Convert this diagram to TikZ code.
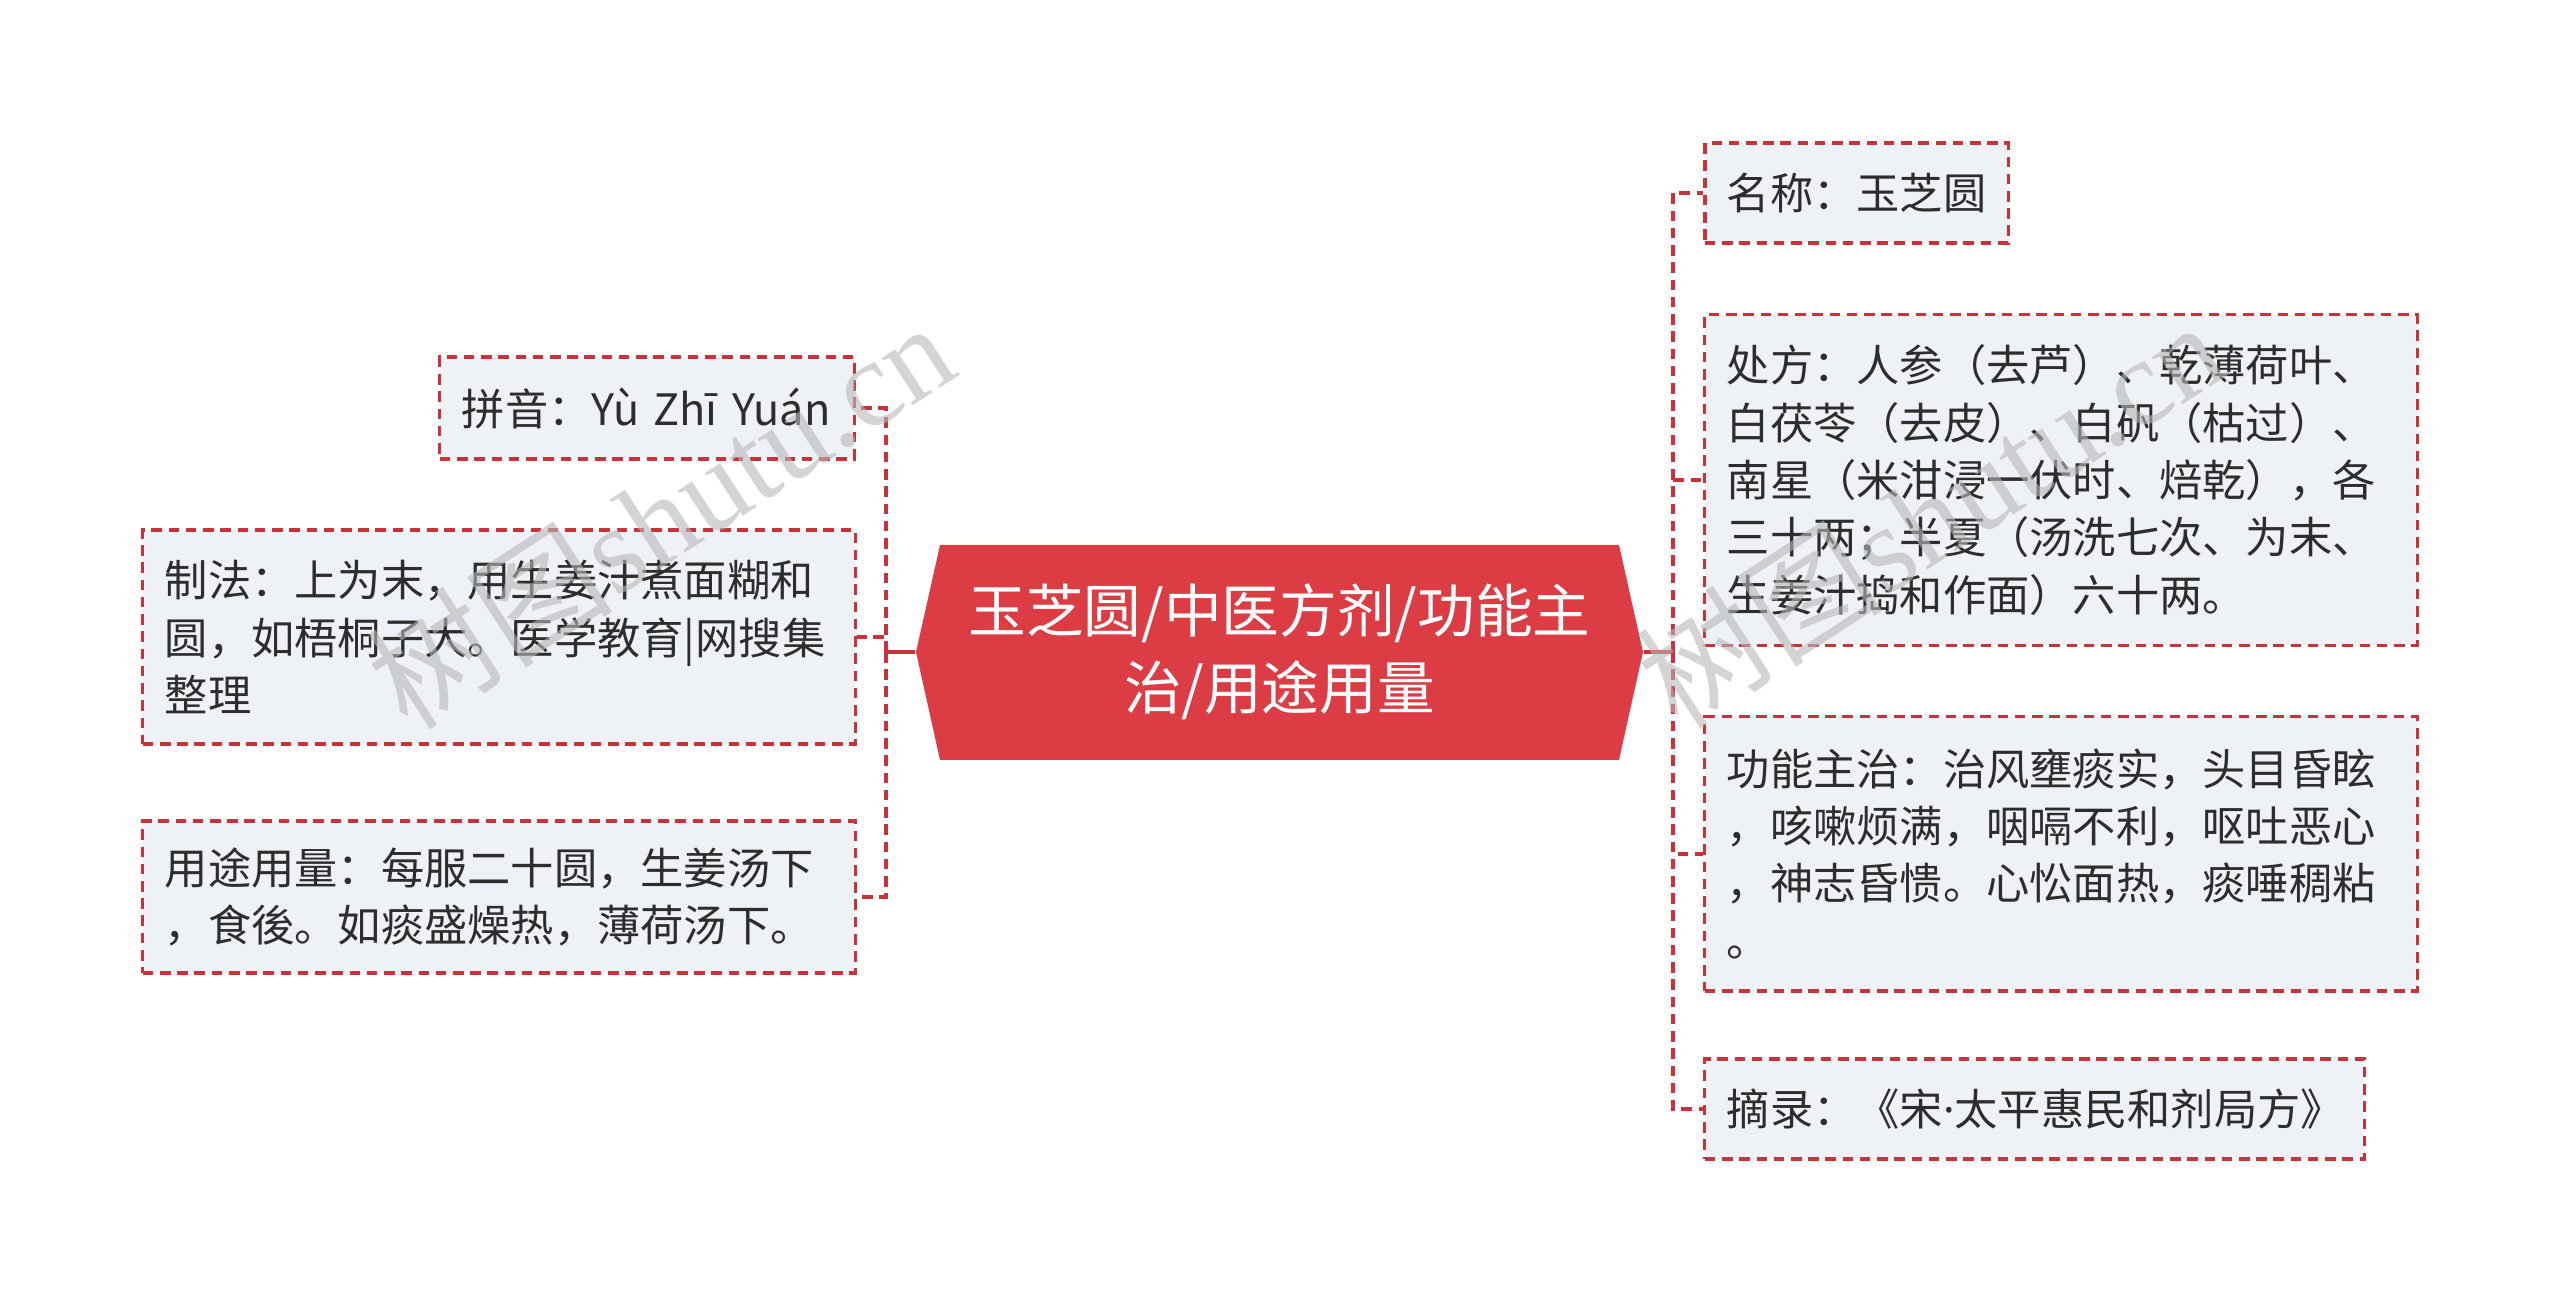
\documentclass[tikz,border=0pt]{standalone}
\usepackage{fontspec}
\setmainfont{Noto Sans CJK SC}
\newfontfamily\wmlatin{Liberation Serif}
\newfontfamily\latinsans{Noto Sans}
\definecolor{linered}{RGB}{202,50,58}
\definecolor{boxfill}{RGB}{238,241,245}
\definecolor{centerred}{RGB}{220,60,68}
\definecolor{txt}{RGB}{45,45,45}
\begin{document}
\begin{tikzpicture}[x=0.01cm,y=-0.01cm,
 leaf/.style={draw=linered, fill=boxfill, line width=0.9pt, dash pattern=on 3pt off 1.9pt, text=txt, align=left, inner xsep=0.22cm, inner ysep=0pt, font=\fontsize{12.3pt}{16.3pt}\selectfont},
 solidconn/.style={draw=linered, line width=1.1pt},
 dashconn/.style={draw=linered, line width=1.1pt, dash pattern=on 3pt off 1.9pt},
 wm/.style={text=black!28, opacity=0.6, rotate=33, font=\fontsize{35pt}{35pt}\selectfont}]
\useasboundingbox (0,0) rectangle (2560,1304);
\fill[white] (0,0) rectangle (2560,1304);

% central topic
\fill[centerred] (916,652) -- (940,545) -- (1619,545) -- (1643,652) -- (1619,760) -- (940,760) -- cycle;
\node[text=white, align=center, minimum width=7.27cm, minimum height=2.15cm, inner sep=0pt,
  font=\fontsize{16.4pt}{21.9pt}\selectfont] (c) at (1279.5,652) {玉芝圆/中医方剂/功能主\\治/用途用量};

% left leaves
\node[leaf, text width=3.70cm, minimum height=1.02cm] (l1) at (647,408) {\mbox{拼音：Yù Zhī Yuán}};
\node[leaf, text width=6.68cm, minimum height=2.14cm] (l2) at (499,637) {制法：上为末，用生姜汁煮面糊和\\圆，如梧桐子大。医学教育|网搜集\\整理};
\node[leaf, text width=6.68cm, minimum height=1.52cm] (l3) at (499,897) {用途用量：每服二十圆，生姜汤下\\，食後。如痰盛燥热，薄荷汤下。};

% right leaves
\node[leaf, text width=2.59cm, minimum height=1.00cm] (r1) at (1856.5,193) {名称：玉芝圆};
\node[leaf, text width=6.68cm, minimum height=3.30cm] (r2) at (2061,480) {处方：人参（去芦）、乾薄荷叶、\\白茯苓（去皮）、白矾（枯过）、\\南星（米泔浸一伏时、焙乾），各\\三十两；半夏（汤洗七次、为末、\\生姜汁捣和作面）六十两。};
\node[leaf, text width=6.68cm, minimum height=2.74cm] (r3) at (2061,854) {功能主治：治风壅痰实，头目昏眩\\，咳嗽烦满，咽嗝不利，呕吐恶心\\，神志昏愦。心忪面热，痰唾稠粘\\。};
\node[leaf, text width=6.15cm, minimum height=1.00cm] (r4) at (2034.5,1109) {摘录：《宋{\latinsans ·}太平惠民和剂局方》};

% connectors
\coordinate (cl) at (886,652);
\coordinate (cr) at (1673,652);
\draw[solidconn] (c.west) -- (cl);
\draw[solidconn] (c.east) -- (cr);
\draw[dashconn] (cl) |- (l1.east);
\draw[dashconn] (cl) |- (l2.east);
\draw[dashconn] (cl) |- (l3.east);
\draw[dashconn] (cr) |- (r1.west);
\draw[dashconn] (cr) |- (r2.west);
\draw[dashconn] (cr) |- (r3.west);
\draw[dashconn] (cr) |- (r4.west);

% watermarks
\node[wm] (w1) at (660,514) {树图{\wmlatin shutu.cn}};
\node[wm] (w2) at (1930,513) {树图{\wmlatin shutu.cn}};
\end{tikzpicture}
\end{document}
